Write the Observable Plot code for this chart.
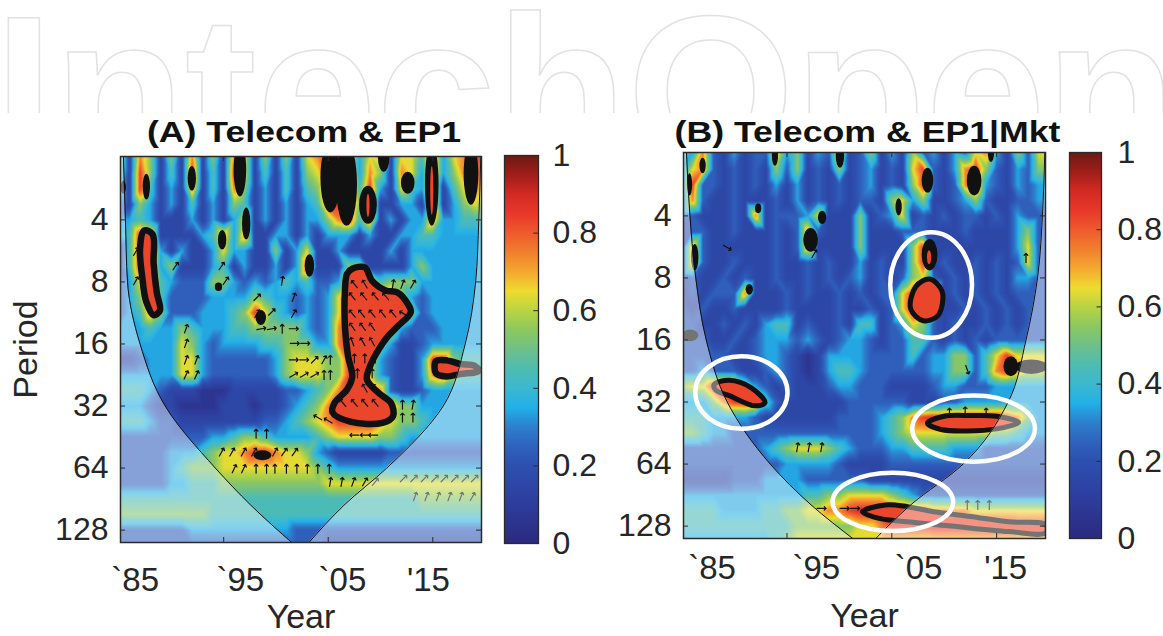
<!DOCTYPE html>
<html>
<head>
<meta charset="utf-8">
<script src="https://cdn.jsdelivr.net/npm/d3@7"></script>
<script src="https://cdn.jsdelivr.net/npm/@observablehq/plot@0.6"></script>
<style>
html,body{margin:0;padding:0;background:#fff;}
#root{position:relative;width:1163px;height:636px;overflow:hidden;background:#fff;}
#wm{position:absolute;left:0;top:0;width:1163px;height:113px;overflow:hidden;}
#wm div{position:absolute;left:-6px;top:-16px;font-family:"Liberation Sans",Arial,sans-serif;font-weight:bold;font-size:215px;line-height:215px;color:transparent;-webkit-text-stroke:1.5px #e2e2e2;white-space:nowrap;}
.pane{position:absolute;}
</style>
</head>
<body>
<div id="root"><div id="wm"><div>IntechOpen</div></div></div>
<script>
// ---------- data ----------
const colYears = [1985,1986,1987,1988,1989,1990,1991,1992,1993,1994,1995,1996,1997,1998,1999,2000,2001,2002,2003,2004,2005,2006,2007,2008,2009,2010,2011,2012,2013,2014,2015,2016,2017,2018,2019,2020];
const rowPeriods = [1.95,2.38,2.83,3.36,4,4.76,5.66,6.73,8,9.51,11.3,13.45,16,19.03,22.6,26.9,32,38.05,45.25,53.8,64,76.1,90.5,107.6,128,152.2];
const levelValues = [0.06,0.15,0.24,0.34,0.44,0.54,0.64,0.74,0.84,0.88];

// coherence, one digit per year (levelValues index), one string per period row
const gridA = [
"617515171517615151678873671664836788",
"518514181418614141568883751763835787",
"418413171417513141458884831643814676",
"315313141315413131348885811331813565",
"334311131313613131335784713133733444",
"348711113473711331313331311334433333",
"148831311363311513611311113133333333",
"148835111341311313811155111135333333",
"236843222553232343422388745553333333",
"235842222333354332323699988532333333",
"234752223334586432323699998852333333",
"333433543334455555323799996322233333",
"333333653233334455533799853112333333",
"112333663222222356665588732113885444",
"333333663222222356665588632113786444",
"444321110001111122345799972112333333",
"333211000011101123457999997553333333",
"444322111111112234567888876554333333",
"222222222334554333345666655433333333",
"222223334566788766532111112222222222",
"222223455566666666654333333333333333",
"222223344455555555556666666666666666",
"444444444444444444444444444445555555",
"555555555444444444444444444444444444",
"222222233333333332222222222222222222",
"222222222222222222221111111111111111"
];
const gridB = [
"537213122735132712513152313267315266",
"367212121525121512312168213785213255",
"382212121313121212312158212783213233",
"272112111213121212215635112352112233",
"221112171222361115123612121221213222",
"122112111212721115111222111211113522",
"172111111212711115111158111111113622",
"172112111211212113121158121121212622",
"121121211211212123121256212121213322",
"121222711121211212122689612121212222",
"212112111121111211212699611212121222",
"221121213441211214412365212112121222",
"222112123332321233212244212121222222",
"222221123321013333222242335524686666",
"223222112321013443222222335524787666",
"566898532121112332221111233222333333",
"333578984211111122222211122333333333",
"444333321111111222234578999999987533",
"554332222222222222234566666666554333",
"222222223456665432223344443332222222",
"222222222233333211112222222222222222",
"111112223333222222111111111111111111",
"333333333333445566665432222222222222",
"444433334455667789999988777766666666",
"444444444445555556678888999999998888",
"333333333456666666666666666666666666"
];

// significance regions [year, period]
const sigA = [
  [[1987.4,4.5],[1988.2,4.7],[1988.3,6.5],[1988.6,9],[1988.9,11],[1988.3,11.6],[1987.6,10],[1987.2,7.5],[1987.0,5.5]],
  [[2007.3,6.9],[2008.5,6.8],[2009.2,7.9],[2010.5,8.8],[2011.6,9.0],[2012.6,10.2],[2012.9,11.2],[2011.6,13.2],[2010.7,14.7],[2009.8,17.1],[2009.0,20.5],[2008.7,23.8],[2009.8,27.6],[2011.0,30.9],[2011.2,35.8],[2010.2,38.6],[2007.1,38.1],[2005.4,34.3],[2005.6,30.9],[2006.8,26.6],[2007.3,23.0],[2006.9,18.4],[2006.6,13.2],[2006.6,8.8],[2006.8,7.3]],
  [[2015.3,19.4],[2016.3,19.2],[2017.6,20.0],[2019.0,20.4],[2019.4,21.6],[2017.6,22.4],[2016.3,23.0],[2015.3,22.2]]
];
const sigB = [
  [[1988.05,26.3],[1989.5,25.1],[1991.6,27.3],[1992.9,32.2],[1991.95,33.4],[1989.5,29.8],[1988.2,28.0]],
  [[2008.6,8.1],[2009.8,9.3],[2009.4,12.2],[2008.0,12.9],[2006.8,11.3],[2007.3,8.8]],
  [[2008.4,40.5],[2010.0,37.5],[2012.5,37.2],[2015.0,37.5],[2017.1,40.2],[2015.0,43.2],[2012.2,44.2],[2009.7,43.5]],
  [[2002.2,109],[2004.4,101],[2006.5,103],[2009.0,109],[2012.5,115],[2016.1,122],[2019.7,126],[2019.7,138],[2016.1,136],[2010.7,128],[2006.5,122],[2003.7,117]]
];
// small significant patches [year1, year2, period1, period2]
const blobsA = [
  [1987.3,1988.0,2.4,3.2],[1991.6,1992.4,2.2,2.9],[1996.0,1997.2,1.7,3.1],[2004.3,2006.2,1.7,3.7],
  [2005.8,2007.8,1.7,4.3],[2008.0,2009.7,2.75,4.2],[2009.8,2010.9,1.7,2.35],[2012.0,2013.3,2.35,3.0],
  [2014.3,2015.6,1.7,4.3],[2018.0,2019.4,1.7,3.4],[1985.2,1985.7,2.6,3.0],[1996.8,1997.6,3.5,5.0],
  [1994.5,1995.3,4.5,5.6],[1994.2,1994.9,8.1,8.9],[2002.8,2003.7,5.9,7.6],[1998.1,1999.1,11.0,13.0],
  [1997.9,1999.6,52.7,58.9]
];
const coresA = [[2014.8,2015.1,2.2,3.8],[2008.7,2009.0,3.0,3.9]];
const blobsB = [
  [1986.7,1987.3,2.1,2.5],[1985.5,1986.0,2.5,3.2],[1993.6,1994.2,1.8,2.3],[1999.7,2000.5,1.8,2.35],
  [2007.9,2009.0,2.35,3.1],[2012.2,2013.6,2.3,3.2],[2014.2,2014.8,1.8,2.2],[2005.4,2006.0,3.3,4.0],
  [1992.0,1992.6,3.5,3.9],[1996.6,1998.0,4.6,6.0],[1998.0,1998.8,3.8,4.4],[1985.9,1986.6,5.5,7.4],
  [1991.1,1991.8,8.6,9.7],[2007.9,2009.4,5.2,7.4],[2015.7,2017.1,19.3,24.1],[2016.8,2019.9,20,23.5],
  [1985.0,1986.6,14.3,16.3]
];
const coresB = [[2008.4,2008.8,5.9,6.9]];
// phase arrows [year, period, angle]
const arrowsA = [
  [1986.6,5.7,30],[1986.6,7.9,30],[1988.7,11.4,30],[1990.4,6.7,35],
  [1991.4,13.5,20],[1991.4,15.9,20],[1991.4,19.1,20],[1992.4,19.1,20],[1991.4,22.6,25],[1992.4,22.6,25],
  [1994.8,6.7,35],[1995.2,7.9,35],
  [1998.2,9.5,45],[1998.2,11.4,30],[1999.6,11.2,45],[2000.6,7.9,10],[2001.7,9.5,20],[2001.7,11.4,30],
  [1998.6,13.5,80],[1999.6,13.5,80],[2000.6,13.5,0],[2001.7,13.5,90],
  [2001.8,15.9,90],[2002.8,15.9,90],
  [2001.7,19.1,90],[2002.7,19.1,90],[2003.7,19.1,45],[2004.6,19.1,30],[2005.2,19.1,0],
  [2001.7,22.6,60],[2002.7,22.6,60],[2003.7,22.6,60],[2004.6,22.6,0],[2005.2,22.6,0],
  [2007.5,8.2,-40],[2008.5,8.2,-30],[2011.2,8.2,10],[2012.1,8.2,20],[2013.1,8.2,30],
  [2007.3,9.4,-40],[2008.4,9.4,-40],[2009.5,9.4,-40],[2010.5,9.4,-40],
  [2007.3,11.4,-40],[2008.2,11.4,-40],[2009.2,11.4,-40],[2010.2,11.4,-40],[2011.2,11.4,-40],[2012.2,11.4,-60],
  [2007.3,13.2,-35],[2008.3,13.2,-35],[2009.2,13.2,-35],
  [2007.3,15.6,-20],[2008.3,15.6,-30],[2009.2,15.6,-30],
  [2007.5,18.8,0],[2008.5,18.8,0],[2009.5,18.8,0],
  [2007.8,22.2,0],[2009.2,22.2,0],
  [2008.5,26.2,-30],[2009.5,26.2,-30],
  [2006.4,30.9,-40],[2007.5,30.9,-40],[2008.5,30.9,-40],[2009.5,30.9,-40],
  [2004.0,36.4,-60],[2005.0,37.7,-60],[2012.1,31.5,0],[2013.1,31.5,10],[2012.1,36.4,0],[2013.1,36.4,0],
  [2007.5,44.3,-90],[2008.5,44.3,-90],[2009.3,44.3,-90],
  [1998.1,43.6,0],[1999.1,43.6,0],
  [1994.8,53.5,30],[1995.8,53.5,30],[1996.9,53.5,30],[1997.9,53.5,30],[1999.9,53.5,30],[2000.8,53.5,35],[2001.8,53.5,35],
  [1996.0,64.5,25],[1996.9,64.5,25],[1998.1,64.5,0],[1999.1,64.5,0],[1999.9,64.5,0],[2001.0,64.5,0],[2002.0,64.5,0],[2003.0,64.5,0],[2004.0,64.5,0],[2005.1,64.5,0],
  [2005.2,74.7,10],[2006.3,74.7,10],[2007.4,74.7,20],[2008.5,74.7,30],[2009.5,74.7,40],
  [2012.2,72,45],[2013.2,72,45],[2014.2,72,45],[2015.2,72,45],[2016.1,72,45],[2017.1,72,45],[2018.1,72,45],[2019.0,72,45],
  [2013.3,88,20],[2014.4,88,20],[2015.5,88,20],[2016.6,88,20],[2017.7,88,20],[2018.8,88,30]
];
const arrowsB = [
  [1996.0,53,10],[1997.1,53,10],[1998.3,53,10],
  [2012.2,22.3,160],[2017.8,6.4,0],[1997.6,6.1,30],[1989.3,5.7,120],
  [1998.3,105,90],[2000.5,105,90],[2001.5,105,90],
  [2012.2,101,0],[2013.2,101,0],[2014.3,101,0],
  [2010.5,36,0],[2012,35.5,0],[2014,36,0]
];
// cone of influence [year, period]
const coiLeftA  = [[1985.4,1.9],[1985.6,4],[1985.8,8],[1987.0,16],[1989.4,32],[1994.2,64],[1997.6,97],[2001.7,150]];
const coiRightA = [[2019.6,1.9],[2019.4,4],[2019.1,8],[2018.1,16],[2016.0,32],[2010.6,64],[2006.5,97],[2003.0,150]];
const coiLeftB  = [[1985.4,1.9],[1985.7,3.7],[1986.3,8],[1987.3,16],[1989.3,32],[1993.4,64],[1997.3,101],[2001.5,150]];
const coiRightB = [[2019.6,1.9],[2019.4,3.7],[2018.9,8],[2017.8,16],[2016.1,32],[2011.8,64],[2006.8,101],[2003.3,150]];
// highlighted ellipses in (B) [year1, year2, period1, period2]
const ringsB = [[2004.9,2012.7,4.83,15.7],[1986.3,1995.1,19.3,43.4],[2007.0,2018.7,29.9,62.7],[1999.4,2010.9,71,136]];

const yTicks = [4,8,16,32,64,128];
const xTickYears = [1995,2005,2015];
const xTickTexts = ["`85","`95","`05","'15"];
const xLabelYearsA = [1986.53,1996.59,2006.36,2014.58];
const xLabelYearsB = [1987.85,1997.8,2007.55,2015.86];
const cbTicks = [0,0.2,0.4,0.6,0.8,1];
const cbTexts = ["0","0.2","0.4","0.6","0.8","1"];

const cbStops  = [0,.1,.2,.25,.3,.35,.4,.45,.5,.55,.6,.65,.7,.75,.8,.85,.9,.95,1];
const cbColors = ["#2b2a7e","#2d3d9c","#2d50b0","#2f62be","#2d7fcc","#22b0e8","#3cb8d0","#4ebcb0","#6ec08a","#8cc860","#b8d444","#eedc30","#f4a830","#f07f2e","#ef5a2c","#e8382a","#d42a24","#a01e1a","#6b1a14"];

// ---------- rendering ----------
const xDomain = [1985.13, 2019.66];
const yDomain = [1.97, 147];
const RED = "#e9462b";
const FONT = "'Liberation Sans', Arial, Helvetica, sans-serif";
const colorOpts = {type: "linear", domain: cbStops, range: cbColors, interpolate: "rgb"};

const toCells = grid => grid.flatMap((row, i) => Array.from(row, (ch, j) => ({yr: colYears[j], p: rowPeriods[i], v: levelValues[+ch]})));
const toPoly = polys => polys.flatMap((pts, k) => pts.map(([yr, p]) => ({id: k, yr, p})));
const R = {x1: d => d[0], x2: d => d[1], y1: d => d[2], y2: d => d[3]};

function panel(c) {
  const fw = c.width - c.ml - c.mr, fh = c.height - c.mt - c.mb;
  const xLab = new Map(c.xLabelYears.map((y, i) => [y, xTickTexts[i]]));
  const marks = [
    Plot.raster(toCells(c.grid), {x: "yr", y: "p", fill: "v", interpolate: "barycentric"}),
    Plot.line(toPoly(c.sig), {x: "yr", y: "p", z: "id", curve: "catmull-rom-closed", fill: RED, stroke: "#111", strokeWidth: c.sigWidth, clip: true}),
    Plot.rect(c.blobs, {...R, fill: "#111", rx: 999, ry: 999, clip: true}),
    Plot.rect(c.cores, {...R, fill: RED, rx: 999, ry: 999, clip: true}),
    Plot.vector(c.arrows, {x: d => d[0], y: d => d[1], rotate: d => d[2], length: 9, stroke: "#111", strokeWidth: 1.2, clip: true}),
    Plot.areaX(c.coiL, {y: d => d[1], x1: xDomain[0], x2: d => d[0], curve: "monotone-y", fill: "#fff", fillOpacity: 0.42, clip: true}),
    Plot.areaX(c.coiR, {y: d => d[1], x1: d => d[0], x2: xDomain[1], curve: "monotone-y", fill: "#fff", fillOpacity: 0.42, clip: true}),
    Plot.line(c.coiL, {x: d => d[0], y: d => d[1], curve: "monotone-y", stroke: "#111", strokeWidth: 1, clip: true}),
    Plot.line(c.coiR, {x: d => d[0], y: d => d[1], curve: "monotone-y", stroke: "#111", strokeWidth: 1, clip: true}),
    Plot.rect(c.rings, {...R, fill: "none", stroke: "#fff", strokeWidth: 4.5, rx: 999, ry: 999}),
    Plot.frame({stroke: "#2a2a2a", strokeWidth: 1.5}),
    Plot.ruleX(xTickYears, {insetTop: fh - 5, stroke: "#2a2a2a"}),
    Plot.ruleX(xTickYears, {insetBottom: fh - 5, stroke: "#2a2a2a"}),
    Plot.ruleY(yTicks, {insetRight: fw - 5, stroke: "#2a2a2a"}),
    Plot.ruleY(yTicks, {insetLeft: fw - 5, stroke: "#2a2a2a"}),
    Plot.axisY(yTicks, {tickFormat: d => String(d), tickSize: 0, tickPadding: 12, fontSize: 32, label: null}),
    Plot.axisX(c.xLabelYears, {tickFormat: d => xLab.get(d), tickSize: 0, tickPadding: c.xPad, fontSize: 33, label: null}),
    Plot.text([c.title], {text: d => d, frameAnchor: "top", dy: c.titleDy, dx: 3, fontSize: 30, fontWeight: "bold", fill: "#111", textAnchor: "middle", lineAnchor: "middle"}),
    Plot.text(["Year"], {text: d => d, frameAnchor: "bottom", dy: c.yearDy, fontSize: 34, textAnchor: "middle", lineAnchor: "middle"})
  ];
  if (c.period) marks.push(Plot.text(["Period"], {text: d => d, frameAnchor: "left", dx: -94, rotate: -90, fontSize: 34, textAnchor: "middle", lineAnchor: "middle"}));
  const svg = Plot.plot({
    width: c.width, height: c.height,
    marginLeft: c.ml, marginRight: c.mr, marginTop: c.mt, marginBottom: c.mb,
    style: {background: "none", fontFamily: FONT, color: "#262626", overflow: "visible"},
    x: {domain: xDomain},
    y: {type: "log", base: 2, domain: yDomain, reverse: true},
    color: colorOpts,
    marks
  });
  // the source figure's title lettering is wider than the font: stretch it to the measured width
  svg.querySelectorAll("text").forEach(t => {
    if (t.textContent === c.title) {
      t.setAttribute("textLength", c.titleWidth);
      t.setAttribute("lengthAdjust", "spacingAndGlyphs");
    }
  });
  return svg;
}

function colorbar(c) {
  const lab = new Map(cbTicks.map((t, i) => [t, cbTexts[i]]));
  return Plot.plot({
    width: c.width, height: c.height,
    marginLeft: c.ml, marginRight: c.mr, marginTop: c.mt, marginBottom: c.mb,
    style: {background: "none", fontFamily: FONT, color: "#262626", overflow: "visible"},
    x: {domain: [0, 1], axis: null},
    y: {domain: [0, 1]},
    color: colorOpts,
    marks: [
      Plot.raster({fill: (x, y) => y, x1: 0, x2: 1, y1: 0, y2: 1, pixelSize: 1}),
      Plot.frame({stroke: "#2a2a2a", strokeWidth: 1.3}),
      Plot.ruleY(cbTicks.slice(1, -1), {x1: 0.86, x2: 1, stroke: "#2a2a2a"}),
      Plot.axisY(cbTicks, {anchor: "right", tickFormat: d => lab.get(d), tickSize: 0, tickPadding: c.pad, fontSize: 32, label: null})
    ]
  });
}

const root = document.getElementById("root");
function place(el, left, top) {
  const d = document.createElement("div");
  d.className = "pane";
  d.style.left = left + "px";
  d.style.top = top + "px";
  d.appendChild(el);
  root.appendChild(d);
}

place(panel({
  width: 505, height: 546, ml: 120, mr: 24, mt: 66, mb: 94,
  grid: gridA, sig: sigA, sigWidth: 6.5, blobs: blobsA, cores: coresA, arrows: arrowsA,
  coiL: coiLeftA, coiR: coiRightA, rings: [],
  xLabelYears: xLabelYearsA, xPad: 25, title: "(A) Telecom & EP1", titleWidth: 314, titleDy: -24, yearDy: 75, period: true
}), 0, 90);

place(panel({
  width: 500, height: 546, ml: 123, mr: 15, mt: 62, mb: 98,
  grid: gridB, sig: sigB, sigWidth: 5, blobs: blobsB, cores: coresB, arrows: arrowsB,
  coiL: coiLeftB, coiR: coiRightB, rings: ringsB,
  xLabelYears: xLabelYearsB, xPad: 17, title: "(B) Telecom & EP1|Mkt", titleWidth: 386, titleDy: -20, yearDy: 78, period: false
}), 560, 90);

place(colorbar({width: 120, height: 546, ml: 14, mr: 72, mt: 65, mb: 93, pad: 14}), 490, 90);
place(colorbar({width: 108, height: 546, ml: 14, mr: 62, mt: 62, mb: 98, pad: 16}), 1055, 90);
</script>
</body>
</html>
